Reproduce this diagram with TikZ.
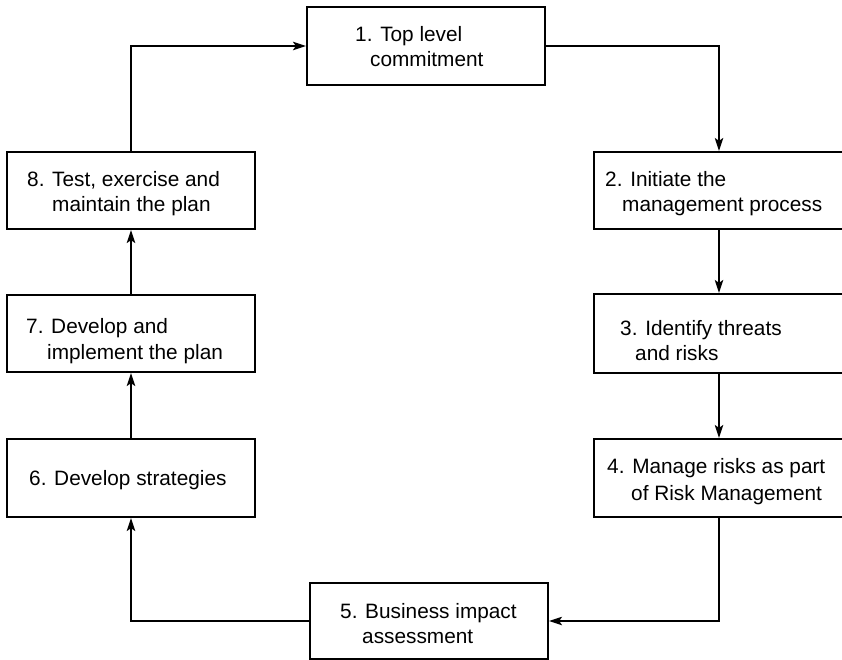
\documentclass[tikz,border=0pt]{standalone}
\usepackage{fontspec}
\setmainfont{Liberation Sans}
\usetikzlibrary{arrows.meta}

\tikzset{
  stagebox/.style={draw=black, line width=2.2pt, fill=white, inner sep=0pt},
  lbl/.style={anchor=base west, inner sep=0pt, font=\fontsize{20.8}{25}\selectfont},
  conn/.style={draw=black, line width=1.3pt,
    -{Stealth[length=13pt, width=8.5pt, inset=3pt]}}
}

\begin{document}
\begin{tikzpicture}[x=1pt, y=-1pt]
  \useasboundingbox (0,0) rectangle (842,660);
  \clip (0,0) rectangle (842,660);

  % stage boxes
  \node[stagebox, minimum width=238pt, minimum height=78pt] (b1) at (426,46) {};
  \node[stagebox, minimum width=250pt, minimum height=77pt] (b2) at (719,190.5) {};
  \node[stagebox, minimum width=250pt, minimum height=79pt] (b3) at (719,333.5) {};
  \node[stagebox, minimum width=250pt, minimum height=78pt] (b4) at (719,478) {};
  \node[stagebox, minimum width=238pt, minimum height=76pt] (b5) at (429,621) {};
  \node[stagebox, minimum width=248pt, minimum height=78pt] (b6) at (131,478) {};
  \node[stagebox, minimum width=248pt, minimum height=77pt] (b7) at (131,333.5) {};
  \node[stagebox, minimum width=248pt, minimum height=77pt] (b8) at (131,190.5) {};

  % box texts
  \node[lbl] (t1a) at (355,41.7) {1. Top level};
  \node[lbl] (t1b) at (370,66.7) {commitment};
  \node[lbl] (t2a) at (605,186.7) {2. Initiate the};
  \node[lbl] (t2b) at (622,211.7) {management process};
  \node[lbl] (t3a) at (620,335) {3. Identify threats};
  \node[lbl] (t3b) at (635,360) {and risks};
  \node[lbl] (t4a) at (607,473) {4. Manage risks as part};
  \node[lbl] (t4b) at (631,500) {of Risk Management};
  \node[lbl] (t5a) at (340,618) {5. Business impact};
  \node[lbl] (t5b) at (362,643) {assessment};
  \node[lbl] (t6a) at (29,485) {6. Develop strategies};
  \node[lbl] (t7a) at (26,333) {7. Develop and};
  \node[lbl] (t7b) at (47,359) {implement the plan};
  \node[lbl] (t8a) at (27,186.7) {8. Test, exercise and};
  \node[lbl] (t8b) at (52,211.7) {maintain the plan};

  % cycle connectors
  \draw[conn] (b8.north) |- (b1.west);
  \draw[conn] (b1.east) -| (b2.north);
  \draw[conn] (b2.south) -- (b3.north);
  \draw[conn] (b3.south) -- (b4.north);
  \draw[conn] (b4.south) |- (b5.east);
  \draw[conn] (b5.west) -| (b6.south);
  \draw[conn] (b6.north) -- (b7.south);
  \draw[conn] (b7.north) -- (b8.south);
\end{tikzpicture}
\end{document}
